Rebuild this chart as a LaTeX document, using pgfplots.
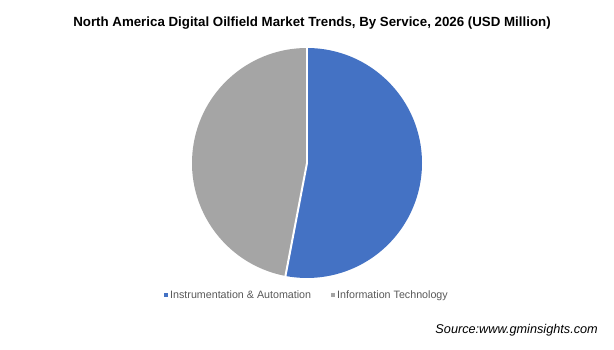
\documentclass[border=0pt]{standalone}
\usepackage{pgfplots}
\pgfplotsset{compat=1.18}
\usepackage{pgfplotstable}
\usepackage{fontspec}
\setmainfont{Liberation Sans}
\definecolor{sliceblue}{RGB}{68,114,196}
\definecolor{slicegray}{RGB}{165,165,165}
\definecolor{legtext}{RGB}{89,89,89}
\pgfplotstableread{
label value
Instrumentation 53.0
InformationTechnology 47.0
}\piedata
\begin{document}
\begin{tikzpicture}[x=1pt,y=1pt]
\path[use as bounding box, fill=white] (0,0) rectangle (614pt,350pt);
\pgfplotstablegetelem{0}{value}\of\piedata \let\va\pgfplotsretval
\pgfplotstablegetelem{1}{value}\of\piedata \let\vb\pgfplotsretval
\pgfmathsetmacro\angA{90-3.6*\va}
\pgfmathsetmacro\angB{\angA-3.6*\vb}
\pgfmathsetmacro\cxA{cos(\angA)}
\pgfmathsetmacro\cyA{sin(\angA)}
\pgfmathsetmacro\dxA{1.01*cos(\angA)}
\pgfmathsetmacro\dyA{1.01*sin(\angA)}
\begin{axis}[
  at={(192pt,72pt)}, anchor=south west,
  scale only axis, width=230pt, height=230pt,
  xmin=-1, xmax=1, ymin=-1, ymax=1,
  hide axis,
  legend columns=2,
  legend style={at={(0.5,-0.074)}, anchor=center, draw=none, fill=none,
    font=\fontsize{10.7}{12}\selectfont\color{legtext},
    /tikz/every even column/.append style={column sep=18pt},
    inner sep=0pt},
  legend image code/.code={\fill[#1] (-2pt,-2pt) rectangle (2pt,2pt);},
]
\addlegendimage{fill=sliceblue, draw=none}
\addlegendentry{Instrumentation \& Automation}
\addlegendimage{fill=slicegray, draw=none}
\addlegendentry{Information Technology}
\fill[sliceblue] (axis cs:0,0) -- (axis cs:0,1) arc[start angle=90, end angle=\angA, radius=115pt] -- cycle;
\fill[slicegray] (axis cs:0,0) -- (axis cs:\cxA,\cyA) arc[start angle=\angA, end angle=\angB, radius=115pt] -- cycle;
\draw[white, line width=2pt] (axis cs:0,0) -- (axis cs:0,1.01);
\draw[white, line width=2pt] (axis cs:0,0) -- (axis cs:\dxA,\dyA);
\end{axis}
\node[font=\fontsize{13.3}{16}\selectfont\bfseries, anchor=center] at (312pt,327pt) {North America Digital Oilfield Market Trends, By Service, 2026 (USD Million)};
\node[font=\fontsize{12.7}{15}\selectfont\itshape, anchor=east, inner sep=0pt] at (598pt,20pt) {Source:www.gminsights.com};
\end{tikzpicture}
\end{document}
